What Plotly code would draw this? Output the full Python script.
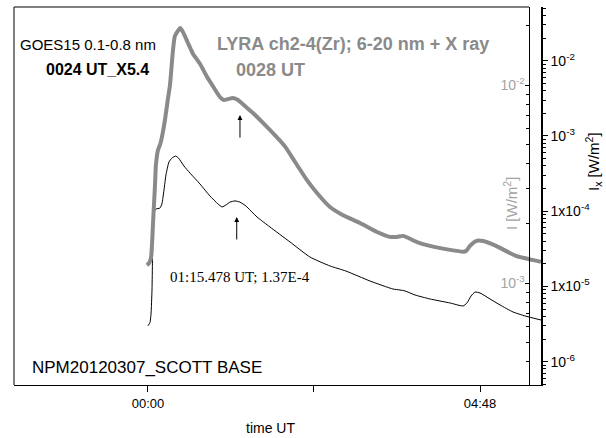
import plotly.graph_objects as go

# GOES15 0.1-0.8 nm X-ray flux (minutes from 00:00 UT, W/m^2)
goes_t = [0.0, 1.7, 2.6, 3.5, 3.9, 4.3, 5.2, 6.9, 10.4, 12.1, 13.9, 15.6, 18.2, 20.8,
          24.0, 26.5, 31.2, 36.4, 45.1, 53.8, 60.7, 64.2, 67.7, 71.1, 75.478, 79.8,
          85.0, 94.6, 105.8, 123.2, 140.5, 157.9, 171.8, 192.6, 212.5, 218.6, 223.0,
          231.6, 244.6, 262.0, 273.3, 276.7, 280.2, 283.7, 288.0, 296.7, 305.4,
          316.6, 327.1, 340.9]
goes_flux = [3.0e-6, 3.3e-6, 4.2e-6, 9.0e-6, 2.2e-5, 5.6e-5, 9.5e-5, 1.07e-4, 1.10e-4,
             1.25e-4, 1.91e-4, 3.03e-4, 4.51e-4, 5.09e-4, 5.4e-4, 5.09e-4, 3.99e-4,
             3.22e-4, 2.30e-4, 1.59e-4, 1.25e-4, 1.14e-4, 1.21e-4, 1.32e-4, 1.37e-4,
             1.32e-4, 1.17e-4, 8.37e-5, 6.17e-5, 3.90e-5, 2.46e-5, 1.87e-5, 1.60e-5,
             1.18e-5, 9.24e-6, 8.97e-6, 8.71e-6, 7.70e-6, 6.81e-6, 6.03e-6, 5.50e-6,
             6.03e-6, 7.46e-6, 8.43e-6, 8.18e-6, 6.81e-6, 5.67e-6, 4.58e-6, 4.05e-6,
             3.58e-6]

# LYRA ch2-4 (Zr) irradiance (minutes from 00:00 UT, W/m^2)
lyra_t = [-0.9, 0.9, 2.6, 3.5, 4.3, 5.2, 6.1, 6.9, 8.7, 10.4, 12.1, 14.7, 17.4, 19.1,
          21.7, 23.4, 28.0, 30.4, 34.7, 39.0, 45.1, 51.2, 57.3, 62.5, 65.9, 69.4,
          73.7, 78.1, 84.1, 91.1, 103.2, 118.8, 128.0, 137.9, 146.6, 157.9, 169.2,
          183.9, 198.7, 209.9, 216.0, 221.2, 233.4, 244.6, 262.0, 273.3, 275.9,
          279.3, 284.5, 290.6, 301.9, 319.2, 340.9]
lyra_irr = [1.23e-3, 1.26e-3, 1.34e-3, 1.56e-3, 1.96e-3, 2.48e-3, 3.13e-3, 3.95e-3,
            4.70e-3, 4.98e-3, 5.46e-3, 6.65e-3, 8.59e-3, 1.0e-2, 1.50e-2, 1.77e-2,
            1.94e-2, 1.85e-2, 1.63e-2, 1.44e-2, 1.28e-2, 1.10e-2, 9.66e-3, 8.69e-3,
            8.40e-3, 8.49e-3, 8.59e-3, 8.40e-3, 7.83e-3, 7.22e-3, 6.14e-3, 4.90e-3,
            4.05e-3, 3.31e-3, 2.85e-3, 2.42e-3, 2.20e-3, 2.01e-3, 1.81e-3, 1.71e-3,
            1.71e-3, 1.73e-3, 1.61e-3, 1.54e-3, 1.47e-3, 1.44e-3, 1.45e-3, 1.54e-3,
            1.63e-3, 1.63e-3, 1.54e-3, 1.37e-3, 1.28e-3]

# axis ticks
time_ticks = [0, 144, 288]
time_labels = ["00:00", "", "04:48"]
ix_ticks = [1e-6, 1e-5, 1e-4, 1e-3, 1e-2]
ix_labels = ["10<sup>-6</sup>", "1x10<sup>-5</sup>", "1x10<sup>-4</sup>",
             "10<sup>-3</sup>", "10<sup>-2</sup>"]
i_ticks = [1e-3, 1e-2]
i_labels = ["10<sup>-3</sup>", "10<sup>-2</sup>"]

# second-bump marker
bump_t, bump_val = 75.478, 1.37e-4

GREY = "#8a8a8a"
LIGHT = "#a3a3a3"
FONT = "Liberation Sans, Arial, sans-serif"


def minor_vals(lo, hi):
    return [k * 10.0 ** e for e in range(lo, hi) for k in range(2, 10)]


fig = go.Figure()
fig.add_trace(go.Scatter(x=goes_t, y=goes_flux, mode="lines", yaxis="y",
                         line=dict(color="black", width=1, shape="spline", smoothing=0.5),
                         showlegend=False))
fig.add_trace(go.Scatter(x=lyra_t, y=lyra_irr, mode="lines", yaxis="y2",
                         line=dict(color=GREY, width=4, shape="spline", smoothing=0.5),
                         showlegend=False))

W, H = 606, 438
L, R, T, B = 14, 541, 7, 385
grey_axis_pos = (529 - L) / (R - L)

fig.update_layout(
    width=W, height=H,
    margin=dict(l=L, r=W - R, t=T, b=H - B),
    paper_bgcolor="white", plot_bgcolor="white",
    font=dict(family=FONT, color="black", size=13),
    xaxis=dict(range=[-116.2, 340.9], tickvals=time_ticks, ticktext=time_labels,
               ticks="outside", ticklen=6, tickcolor="black", showgrid=False,
               zeroline=False, showline=True, linecolor="black", linewidth=1,
               tickfont=dict(size=13, family=FONT)),
    yaxis=dict(type="log", range=[-6.31, -1.286], side="right", tickvals=ix_ticks,
               ticktext=ix_labels, ticks="outside", ticklen=5, tickcolor="black",
               showline=True, linecolor="black", linewidth=1.5, showgrid=False,
               zeroline=False, tickfont=dict(size=14, family=FONT),
               minor=dict(tickvals=minor_vals(-7, -1), ticks="outside", ticklen=3,
                          tickcolor="black", showgrid=False)),
    yaxis2=dict(type="log", range=[-3.515, -1.606], overlaying="y", side="right",
                anchor="free", position=grey_axis_pos, tickvals=i_ticks,
                ticktext=i_labels, ticks="inside", ticklen=4, tickcolor="black",
                ticklabelposition="inside", showline=True, linecolor="black",
                linewidth=1, showgrid=False, zeroline=False,
                tickfont=dict(size=14, family=FONT, color=LIGHT),
                minor=dict(tickvals=minor_vals(-4, -1), ticks="inside", ticklen=3,
                           tickcolor="black", showgrid=False)),
)

# frame: left edge and top edge up to the inner axis
fig.add_shape(type="line", xref="paper", yref="paper", x0=0, x1=0, y0=0, y1=1,
              line=dict(color="black", width=1))
fig.add_shape(type="line", xref="paper", yref="paper", x0=0, x1=grey_axis_pos,
              y0=1, y1=1, line=dict(color="black", width=1))


def px(xp, yp):
    return (xp - L) / (R - L), (B - yp) / (B - T)


def label(text, xp, yp, size, color="black", family=FONT, anchor="left", angle=0):
    x, y = px(xp, yp)
    fig.add_annotation(text=text, x=x, y=y, xref="paper", yref="paper",
                       xanchor=anchor, yanchor="middle", showarrow=False,
                       textangle=angle, font=dict(size=size, color=color, family=family))


label("GOES15 0.1-0.8 nm", 18, 44, 15)
label("<b>0024 UT_X5.4</b>", 44, 69, 16)
label("<b>LYRA ch2-4(Zr); 6-20 nm + X ray</b>", 215, 44, 18, color=GREY)
label("<b>0028 UT</b>", 234, 70, 18, color=GREY)
label("01:15.478 UT; 1.37E-4", 168, 277, 15,
      family="Liberation Serif, Times New Roman, serif")
label("NPM20120307_SCOTT BASE", 30, 367, 17)
label("I [W/m<sup>2</sup>]", 510, 204, 15, color=LIGHT, anchor="center", angle=-90)
label("I<sub>x</sub> [W/m<sup>2</sup>]", 594, 162, 15, anchor="center", angle=-90)
label("time UT", 270, 428, 14, anchor="center")

# arrows marking the secondary peak on each curve
fig.add_annotation(x=79.8, y=-2.152, xref="x", yref="y2", ax=0, ay=24, text="",
                   showarrow=True, arrowhead=2, arrowsize=1, arrowwidth=1,
                   arrowcolor="black")
fig.add_annotation(x=bump_t + 1.5, y=-4.077, xref="x", yref="y", ax=0, ay=24, text="",
                   showarrow=True, arrowhead=2, arrowsize=1, arrowwidth=1,
                   arrowcolor="black")

fig.write_html("out.html")
